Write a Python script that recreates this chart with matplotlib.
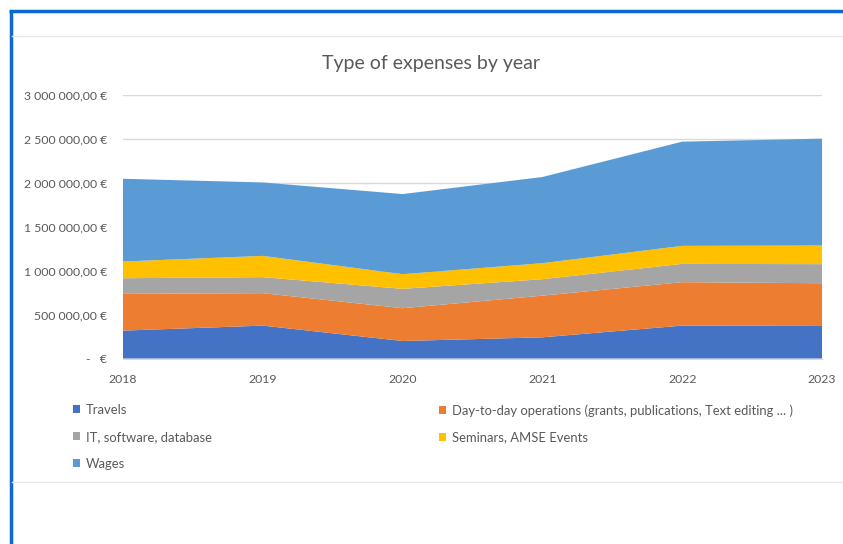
import matplotlib.pyplot as plt
from matplotlib.lines import Line2D
from matplotlib.patches import Patch

# expenses per category, in euros
years = [2018, 2019, 2020, 2021, 2022, 2023]
travels = [317000, 374000, 199000, 241000, 374000, 370000]
day_to_day = [418000, 369000, 373000, 474000, 494000, 486000]
it_software = [178000, 182000, 220000, 187000, 208000, 217000]
seminars = [190000, 242000, 167000, 182000, 205000, 212000]
wages = [941000, 835000, 911000, 980000, 1185000, 1215000]

labels = ["Travels",
          "Day-to-day operations (grants, publications, Text editing ... )",
          "IT, software, database",
          "Seminars, AMSE Events",
          "Wages"]
colors = ["#4472C4", "#ED7D31", "#A5A5A5", "#FFC000", "#5B9BD5"]
yticks = [0, 500000, 1000000, 1500000, 2000000, 2500000, 3000000]

plt.rcParams['font.family'] = ['Lato', 'DejaVu Sans']
txt = "#595959"


def euro(v):
    if v == 0:
        return "-   €"
    s = f"{v:,.2f}".replace(",", " ").replace(".", ",")
    return s + " €"


fig = plt.figure(figsize=(8.43, 5.44), dpi=100)
fig.patch.set_facecolor("white")

ax = fig.add_axes([123 / 843, 1 - 358.5 / 544, (822 - 123) / 843, (358.5 - 94.7) / 544])
ax.stackplot(years, travels, day_to_day, it_software, seminars, wages,
             colors=colors, linewidth=0, zorder=2)

ax.set_xlim(years[0], years[-1])
ax.set_ylim(0, 3000000)
ax.set_yticks(yticks)
ax.set_yticklabels([euro(v) for v in yticks])
ax.set_xticks(years)
ax.grid(axis="y", color="#D9D9D9", linewidth=1, zorder=0)
for s in ["top", "right", "left"]:
    ax.spines[s].set_visible(False)
ax.spines["bottom"].set_color("#D9D9D9")
ax.tick_params(length=0, labelsize=8.8, colors=txt)
ax.tick_params(axis="y", pad=11.5)
ax.tick_params(axis="x", pad=11)

fig.text(431 / 843, 1 - 63 / 544, "Type of expenses by year", ha="center", va="center",
         fontsize=14, color=txt)

# legend in two columns
handles = [Patch(facecolor=c, edgecolor="none") for c in colors]
leg_kw = dict(frameon=False, fontsize=9.4, labelcolor=txt, handlelength=0.55,
              handleheight=0.55, handletextpad=0.45, labelspacing=1.14,
              borderpad=0, borderaxespad=0, loc="upper left")
leg1 = fig.legend([handles[0], handles[2], handles[4]], [labels[0], labels[2], labels[4]],
                  bbox_to_anchor=(73 / 843, 1 - 404 / 544), **leg_kw)
leg2 = fig.legend([handles[1], handles[3]], [labels[1], labels[3]],
                  bbox_to_anchor=(439 / 843, 1 - 404 / 544), **leg_kw)

# surrounding frame lines
fig.add_artist(Line2D([10.5 / 843, 10.5 / 843], [0, 1 - 10.5 / 544], color="#0A6ACF",
                      linewidth=2.5, solid_capstyle="butt", transform=fig.transFigure))
fig.add_artist(Line2D([9.3 / 843, 1], [1 - 10.5 / 544, 1 - 10.5 / 544], color="#0A6ACF",
                      linewidth=2.5, solid_capstyle="butt", transform=fig.transFigure))
for yy in [36, 482]:
    fig.add_artist(Line2D([12 / 843, 1], [1 - yy / 544, 1 - yy / 544], color="#E6E6E6",
                          linewidth=1, transform=fig.transFigure))

fig.savefig("out.png", dpi=100)
